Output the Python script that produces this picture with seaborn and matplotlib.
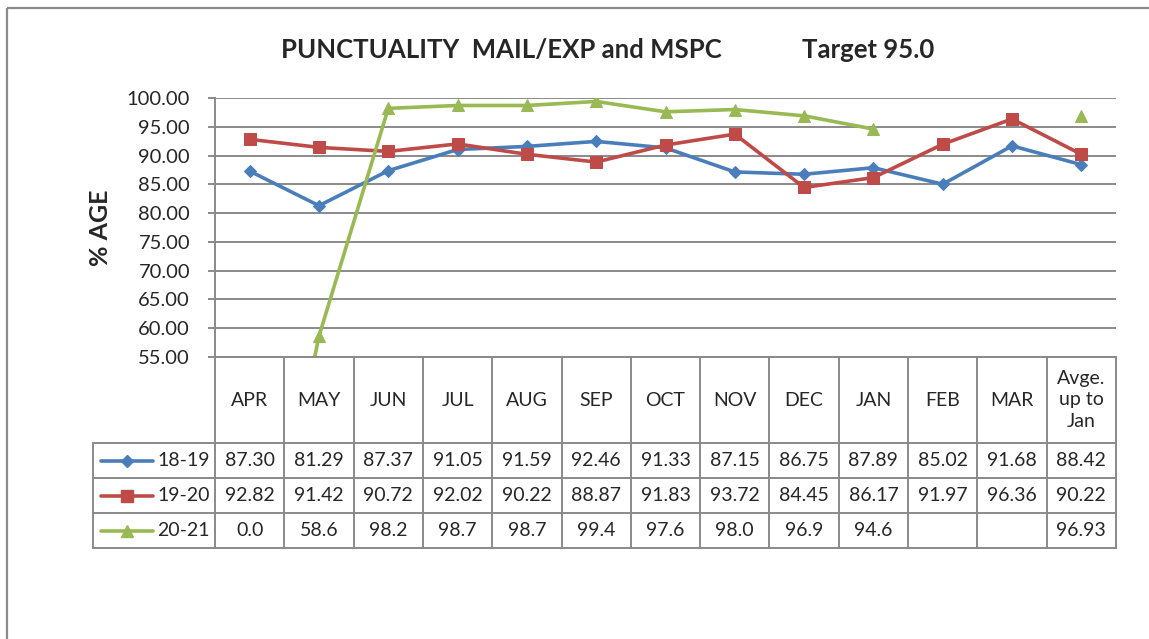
import numpy as np
import pandas as pd
import seaborn as sns
import matplotlib.pyplot as plt

sns.set_style("white")
plt.rcParams['font.family'] = ['Lato', 'DejaVu Sans']

# data
months = ["APR", "MAY", "JUN", "JUL", "AUG", "SEP", "OCT", "NOV", "DEC",
          "JAN", "FEB", "MAR", "Avge.\nup to\nJan"]
s_1819 = [87.30, 81.29, 87.37, 91.05, 91.59, 92.46, 91.33, 87.15, 86.75,
          87.89, 85.02, 91.68, 88.42]
s_1920 = [92.82, 91.42, 90.72, 92.02, 90.22, 88.87, 91.83, 93.72, 84.45,
          86.17, 91.97, 96.36, 90.22]
s_2021 = [0.0, 58.6, 98.2, 98.7, 98.7, 99.4, 97.6, 98.0, 96.9, 94.6,
          np.nan, np.nan, 96.93]
series_names = ["18-19", "19-20", "20-21"]
yticks = [55, 60, 65, 70, 75, 80, 85, 90, 95, 100]

styles = {
    "18-19": dict(color="#4A7EBB", marker="D", ms=6.5, dec=2),
    "19-20": dict(color="#BE4B48", marker="s", ms=8.5, dec=2),
    "20-21": dict(color="#98B954", marker="^", ms=8.5, dec=1),
}
grey = "#8a8a8a"
fs = 14

df = pd.DataFrame({"x": range(len(months)), "18-19": s_1819,
                   "19-20": s_1920, "20-21": s_2021})

W, H = 1149, 639
fig = plt.figure(figsize=(W / 100, H / 100), dpi=100)

# overlay axes in pixel units for frame and data table
bg = fig.add_axes([0, 0, 1, 1], zorder=0)
bg.set_xlim(0, W)
bg.set_ylim(H, 0)
bg.axis("off")

x0, x1, ytop, ybot = 215, 1116, 98, 357
ax = fig.add_axes([x0 / W, 1 - ybot / H, (x1 - x0) / W, (ybot - ytop) / H], zorder=2)
ax.set_facecolor("none")

for name in series_names:
    st = styles[name]
    vals = df[name].to_numpy()
    # split into runs of valid values so gaps are not bridged
    run = []
    runs = []
    for i, v in enumerate(vals):
        if np.isnan(v):
            if run:
                runs.append(run)
            run = []
        else:
            run.append(i)
    if run:
        runs.append(run)
    for r in runs:
        sub = df.iloc[r]
        sns.lineplot(data=sub, x="x", y=name, ax=ax, color=st["color"],
                     marker=st["marker"], markersize=st["ms"], linewidth=2.6,
                     markeredgecolor=st["color"], legend=False, sort=False,
                     estimator=None)

ax.set_xlim(-0.5, len(months) - 0.5)
ax.set_ylim(55, 100)
ax.set_yticks(yticks)
ax.set_yticklabels([f"{t:.2f}" for t in yticks], fontsize=14.5)
ax.set_xticks([])
ax.set_xlabel("")
ax.set_ylabel("")
ax.yaxis.grid(True, color=grey, linewidth=1.4)
ax.set_axisbelow(True)
ax.tick_params(axis="y", length=5, width=1.4, color=grey, pad=13, left=True)
for s in ["top", "right"]:
    ax.spines[s].set_visible(False)
for s in ["left", "bottom"]:
    ax.spines[s].set_color(grey)
    ax.spines[s].set_linewidth(1.4)

# outer frame
bg.add_patch(plt.Rectangle((7, 8), 1300, 800, fill=False, edgecolor=grey, lw=1.6))

# titles
bg.text(501, 50, "PUNCTUALITY  MAIL/EXP and MSPC", ha="center", va="center",
        fontsize=18.5, fontweight="bold")
bg.text(868, 50, "Target 95.0", ha="center", va="center", fontsize=18.5,
        fontweight="bold")
bg.text(101, 228, "% AGE", ha="center", va="center", rotation=90,
        fontsize=18, fontweight="bold")

# data table
cw = (x1 - x0) / len(months)
cols = [x0 + i * cw for i in range(len(months) + 1)]
rows = [443, 478, 513, 548]
lx = 93
for c in cols:
    bg.plot([c, c], [ybot, rows[-1]], color=grey, lw=1.4)
bg.plot([lx, lx], [rows[0], rows[-1]], color=grey, lw=1.4)
for r in rows:
    bg.plot([lx, x1], [r, r], color=grey, lw=1.4)

for i, m in enumerate(months):
    bg.text(cols[i] + cw / 2, 400, m, ha="center", va="center", fontsize=fs,
            linespacing=1.3)

for k, name in enumerate(series_names):
    st = styles[name]
    yc = (rows[k] + rows[k + 1]) / 2
    bg.plot([101, 153], [yc, yc], color=st["color"], lw=2.6,
            solid_capstyle="round")
    bg.plot([127], [yc], marker=st["marker"], ms=st["ms"], color=st["color"])
    bg.text(157, yc, name, ha="left", va="center", fontsize=fs)
    vals = df[name].to_numpy()
    for i, v in enumerate(vals):
        if np.isnan(v):
            continue
        dec = 2 if i == len(months) - 1 else st["dec"]
        bg.text(cols[i] + cw / 2, yc, f"{v:.{dec}f}", ha="center", va="center",
                fontsize=fs)

fig.savefig("out.png", dpi=100)
